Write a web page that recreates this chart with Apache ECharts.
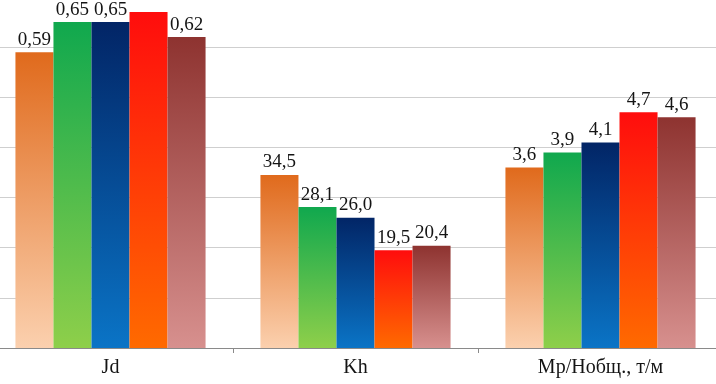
<!DOCTYPE html>
<html><head><meta charset="utf-8">
<script src="https://cdn.jsdelivr.net/npm/echarts@6/dist/echarts.min.js"></script>
<style>html,body{margin:0;padding:0;background:#fff}#c{width:716px;height:384px}</style>
</head><body><div id="c"></div>
<script>
const categories = ['Jd', 'Kh', 'Мр/Нобщ., т/м'];
const catScale = [10, 0.1, 1];
const catDecimals = [2, 1, 1];
const series1 = [0.59, 34.5, 3.6];
const series2 = [0.65, 28.1, 3.9];
const series3 = [0.65, 26.0, 4.1];
const series4 = [0.67, 19.5, 4.7];
const series5 = [0.62, 20.4, 4.6];
const hiddenLabels = [[], [], [], [0], []];
const yTicks = [0, 1, 2, 3, 4, 5, 6, 7];

const gradients = [
  ['#e06a1c', '#fbd0ae'],
  ['#10a84e', '#8ecf4a'],
  ['#022566', '#0a74c6'],
  ['#ff0d0d', '#ff6a00'],
  ['#8e3330', '#d7908e']
];
const all = [series1, series2, series3, series4, series5];

const series = all.map((vals, si) => ({
  type: 'bar',
  barGap: '0%',
  barCategoryGap: '22.4%',
  itemStyle: {
    color: new echarts.graphic.LinearGradient(0, 0, 0, 1, [
      {offset: 0, color: gradients[si][0]},
      {offset: 1, color: gradients[si][1]}
    ])
  },
  label: {
    show: true,
    position: 'top',
    distance: 3,
    fontFamily: '"Liberation Serif", "DejaVu Serif", serif',
    fontSize: 19,
    color: '#141414',
    formatter: p => vals[p.dataIndex].toFixed(catDecimals[p.dataIndex]).replace('.', ',')
  },
  data: vals.map((v, ci) => ({
    value: v * catScale[ci],
    label: hiddenLabels[si].includes(ci) ? {show: false} : undefined
  }))
}));

const chart = echarts.init(document.getElementById('c'));
chart.setOption({
  animation: false,
  backgroundColor: '#fff',
  grid: {left: -12, right: -7, top: -3, bottom: 36, containLabel: false, outerBoundsMode: 'none'},
  xAxis: {
    type: 'category',
    data: categories,
    axisLine: {lineStyle: {color: '#8a8a8a', width: 1}},
    axisTick: {show: true, length: 5, lineStyle: {color: '#8a8a8a'}},
    axisLabel: {
      fontFamily: '"Liberation Serif", "DejaVu Serif", serif',
      fontSize: 20,
      color: '#141414',
      margin: 10
    }
  },
  yAxis: {
    type: 'value',
    min: yTicks[0],
    max: yTicks[yTicks.length - 1],
    interval: 1,
    axisLine: {show: false},
    axisTick: {show: false},
    axisLabel: {show: false},
    splitLine: {lineStyle: {color: '#cfcfcf', width: 1}}
  },
  series: series
});
</script>
</body></html>
